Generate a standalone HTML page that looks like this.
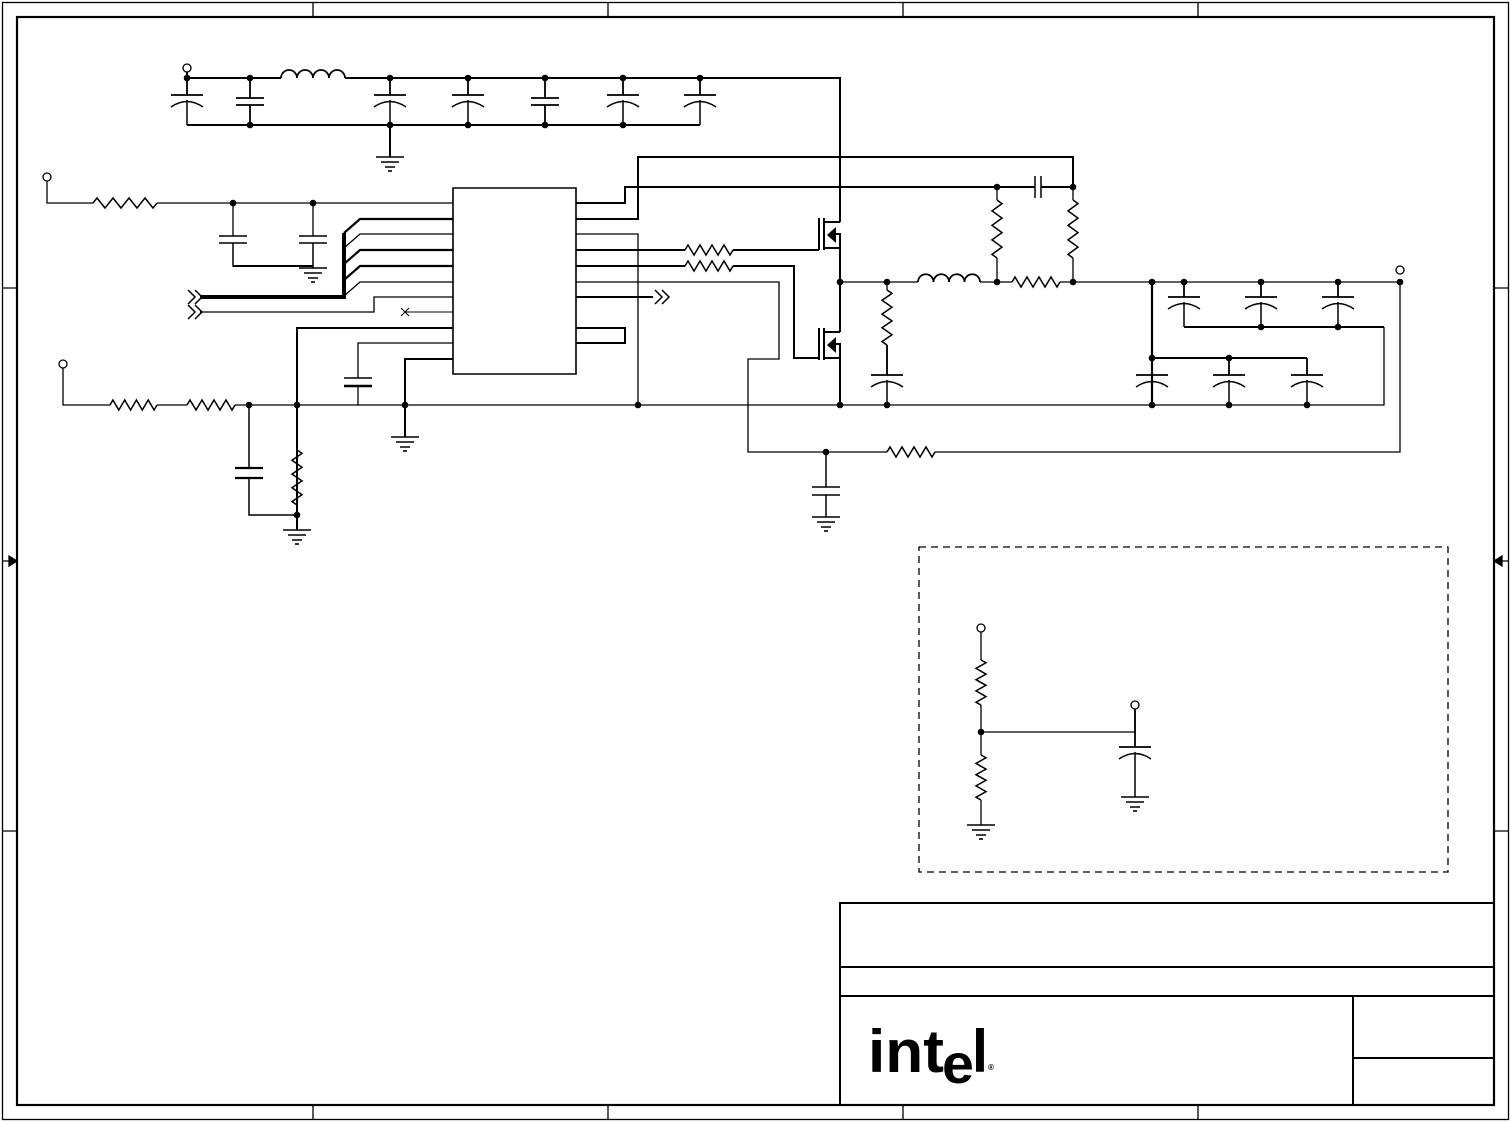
<!DOCTYPE html>
<html><head><meta charset="utf-8"><style>
html,body{margin:0;padding:0;background:#fff}
svg{display:block}
</style></head><body>
<svg id="s" width="1511" height="1122" viewBox="0 0 1511 1122" xmlns="http://www.w3.org/2000/svg" fill="none" stroke="#000" stroke-width="1.3">
<!-- frame -->
<rect x="2.5" y="2.5" width="1506" height="1117"/>
<rect x="17" y="17" width="1477" height="1088" stroke-width="2.2"/>
<path d="M313 3V17M608 3V17M903 3V17M1198 3V17M313 1105V1119M608 1105V1119M903 1105V1119M1198 1105V1119M3 288H17M3 831H17M1494 288H1508M1494 831H1508M3 561H9M1500 561H1508"/>
<path d="M17 561L9 556V566Z M1494 561L1502 556V566Z" fill="#000"/>
<!-- title block -->
<g stroke-width="2">
<rect x="840" y="903" width="654" height="202"/>
<path d="M840 967H1494M840 996H1494M1353 996V1105M1353 1058H1494"/>
</g>
<g fill="#000" stroke="none" font-family="Liberation Sans, sans-serif" font-weight="bold">
<text x="868" y="1072" font-size="60" textLength="76" lengthAdjust="spacingAndGlyphs">int</text>
<text x="942" y="1083" font-size="56" textLength="32" lengthAdjust="spacingAndGlyphs">e</text>
<text x="972" y="1072" font-size="60" textLength="16" lengthAdjust="spacingAndGlyphs">l</text>
<text x="988" y="1070" font-size="8">®</text>
</g>
<!-- dashed box -->
<rect x="919" y="547" width="529" height="325" stroke-dasharray="7,5"/>
<g id="g"></g>
</svg>
<script>
var g=document.getElementById('g'),h='';
function L(d,w){h+='<path d="'+d+'"'+(w?' stroke-width="'+w+'"':'')+'/>';}
function dot(x,y){h+='<circle cx="'+x+'" cy="'+y+'" r="3.3" fill="#000" stroke="none"/>';}
function term(x,y){h+='<circle cx="'+x+'" cy="'+y+'" r="4" fill="#fff"/>';}
function gnd(x,y){L('M'+(x-14)+' '+y+'H'+(x+14)+'M'+(x-9)+' '+(y+5)+'H'+(x+9)+'M'+(x-5)+' '+(y+10)+'H'+(x+5),1.6);L('M'+(x-2)+' '+(y+14)+'H'+(x+2),1.6);}
function capN(x,y1,y2,ya){L('M'+x+' '+y1+'V'+ya+'M'+(x-14)+' '+ya+'H'+(x+14)+'M'+(x-14)+' '+(ya+7)+'H'+(x+14)+'M'+x+' '+(ya+7)+'V'+y2,1.8);}
function capP(x,y1,y2,ya){L('M'+x+' '+y1+'V'+ya+'M'+(x-16)+' '+ya+'H'+(x+16),1.8);L('M'+(x-16)+' '+(ya+12)+'Q'+x+' '+(ya+1)+' '+(x+16)+' '+(ya+12),1.5);L('M'+x+' '+(ya+5)+'V'+y2,1.5);}
function rH(x1,x2,y){var n=4,s=(x2-x1)/(2*n),d='M'+x1+' '+y;for(var i=0;i<2*n;i++){d+='L'+(x1+s*(i+.5)).toFixed(1)+' '+(y+(i%2?5:-5))}d+='L'+x2+' '+y;L(d,1.5);}
function rV(x,y1,y2){var n=4,s=(y2-y1)/(2*n),d='M'+x+' '+y1;for(var i=0;i<2*n;i++){d+='L'+(x+(i%2?-5:5))+' '+(y1+s*(i+.5)).toFixed(1)}d+='L'+x+' '+y2;L(d,1.5);}
function ind(x1,x2,y){var n=4,w=(x2-x1)/n,d='M'+x1+' '+y;for(var i=0;i<n;i++){d+='A'+(w/2)+' '+(w/2)+' 0 0 1 '+(x1+w*(i+1))+' '+y}L(d,1.8);}
function chev(x,y){L('M'+x+' '+(y-7)+'L'+(x+7)+' '+y+'L'+x+' '+(y+7)+'M'+(x+7)+' '+(y-7)+'L'+(x+14)+' '+y+'L'+(x+7)+' '+(y+7),1.5);}
function fet(t){var s=t-4;L('M819 '+(t-4)+'V'+(t+28)+'M824 '+(t-4)+'V'+(t+28),2);L('M824 '+t+'H840M824 '+(t+26)+'H840M835 '+(t+12)+'H840V'+(t+26),2);h+='<path d="M827 '+(t+13)+'L836 '+(t+5)+'V'+(t+21)+'Z" fill="#000" stroke="none"/>';}
// top input filter
term(187,68);L('M187 72V78M187 78H281M345 78H840V222',2);
ind(281,345,78);
capP(187,78,125,95);capN(250,78,125,98);capP(390,78,125,95);capP(468,78,125,95);capN(545,78,125,98);capP(623,78,125,95);capP(700,78,125,95);
L('M187 125H700M390 125V157',2);gnd(390,157);
[187,250,390,468,545,623,700].forEach(function(x){dot(x,78)});[250,390,468,545,623].forEach(function(x){dot(x,125)});
// second input
term(47,177);L('M47 181V203H93M157 203H453',1.3);rH(93,157,203);
dot(233,203);dot(313,203);
L('M233 203V236M313 203V236',1.3);L('M219 236H247M219 243H247M299 236H327M299 243H327',1.5);L('M233 243V266H313M313 243V268',1.5);L('M233 266H313',2);gnd(313,268);
// IC
L('M453 188H576V374H453Z',1.6);
// bus
L('M344 233V297H200',4);
[[219,2.2],[234,1.3],[250,2.2],[266,2.2],[282,1.3]].forEach(function(p){L('M453 '+p[0]+'H360L344 '+(p[0]+14),p[1]);});
chev(188,297);chev(188,312);
L('M453 297H374V312H200',1.3);
L('M453 312H405',1);L('M401 308L409 316M409 308L401 316',1);
L('M453 328H297V515',2);
L('M453 343H358V378',1.3);L('M344 378H372',1.5);L('M344 386H372',2.5);L('M358 386V405',1.3);
L('M453 359H405V437',2);gnd(405,437);
// third input
term(63,364);L('M63 368V405H110M157 405H187M235 405H840',1.3);rH(110,157,405);rH(187,235,405);
dot(249,405);dot(297,405);dot(405,405);dot(638,405);dot(840,405);
L('M249 405V468M249 478V515H297',1.5);L('M235 468H263M235 478H263',2.2);
rV(297,450,505);dot(297,515);L('M297 515V530',2);gnd(297,530);
// right pins
L('M576 203H625V187H1035M1041 187H1073',2);
L('M1035 176V198M1041 176V198',1.5);
L('M576 219H638V157H1073V187',2);
L('M576 234H638V405',1.3);
L('M576 250H685M733 250H819',2);rH(685,733,250);
L('M576 266H685M733 266H794V358H819',2);rH(685,733,266);
L('M576 282H779V359H748V452H887M935 452H1400V282',1.3);rH(887,935,452);
L('M576 297H653',2);chev(655,297);
L('M576 328H625V343H576',2);
// fets
fet(222);fet(332);
L('M840 248V332M840 358V405',2);
dot(840,282);
// switch node
L('M840 282H918M980 282H1012M1060 282H1400',1.3);ind(918,980,282);rH(1012,1060,282);
dot(887,282);dot(997,282);dot(1073,282);dot(997,187);dot(1073,187);
rV(887,290,345);L('M887 282V290M887 345V375',1.3);capP(887,345,405,375);dot(887,405);
rV(997,200,258);L('M997 187V200M997 258V282',1.3);
rV(1073,200,258);L('M1073 187V200M1073 258V282',1.3);
L('M840 405H1384V327',1.3);
// output caps
term(1400,270);dot(1400,282);
L('M1152 282V405',2.2);dot(1152,282);dot(1152,358);
[1184,1261,1338].forEach(function(x){dot(x,282);capP(x,282,327,297);});
L('M1184 327H1384',2);dot(1261,327);dot(1338,327);
L('M1152 358H1307',2);dot(1229,358);
[1152,1229,1307].forEach(function(x){capP(x,358,405,375);dot(x,405);});
// feedback cap
dot(826,452);L('M826 452V487M826 495V517',1.5);L('M812 487H840M812 495H840',1.5);gnd(826,517);
// dashed box circuit
term(981,628);L('M981 632V660M981 705V755M981 800V825',1.3);rV(981,660,705);rV(981,755,800);dot(981,732);gnd(981,825);
L('M981 732H1135',1.3);term(1135,705);L('M1135 709V732',1.3);capP(1135,709,797,747);gnd(1135,797);
g.innerHTML=h;
</script>
</body></html>
